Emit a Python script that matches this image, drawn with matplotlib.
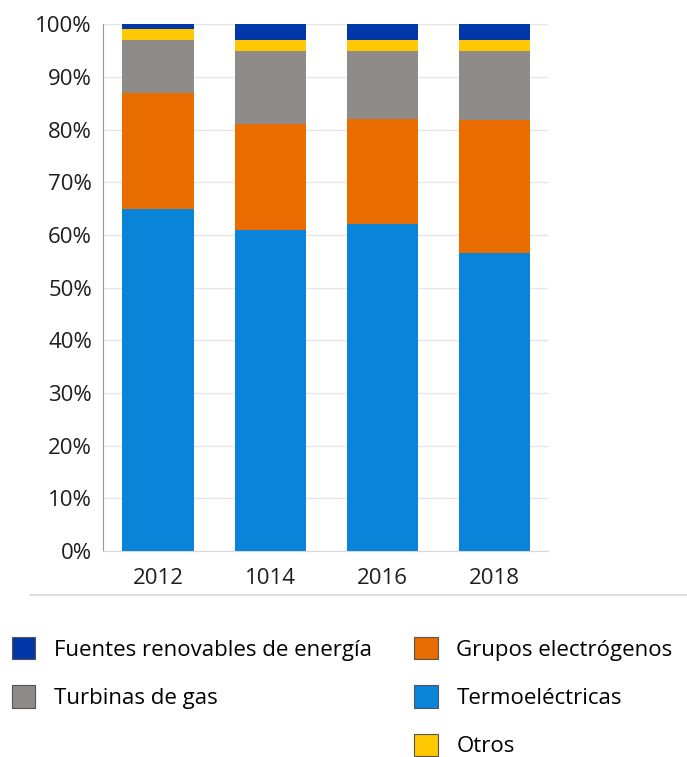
import numpy as np
import matplotlib.pyplot as plt
from matplotlib.lines import Line2D

# Datos
anios = ['2012', '1014', '2016', '2018']
termo = np.array([65.0, 61.0, 62.0, 56.6])
grupos = np.array([22.0, 20.0, 20.0, 25.2])
turbinas = np.array([10.0, 14.0, 13.0, 13.2])
otros = np.array([2.0, 2.0, 2.0, 2.0])
renovables = np.array([1.0, 3.0, 3.0, 3.0])

c_termo = '#0A84D8'
c_grupos = '#E86C00'
c_turb = '#8E8B88'
c_otros = '#FFC800'
c_renov = '#0038AA'

plt.rcParams['font.family'] = ['Open Sans', 'DejaVu Sans']

fig = plt.figure(figsize=(6.87, 7.57), dpi=100)
ax = fig.add_axes([0.150, 0.272, 0.648, 0.696])

x = np.arange(len(anios))
w = 0.635
base = np.zeros(len(anios))
barras = {}
for nombre, vals, col in [('Termoeléctricas', termo, c_termo),
                          ('Grupos electrógenos', grupos, c_grupos),
                          ('Turbinas de gas', turbinas, c_turb),
                          ('Otros', otros, c_otros),
                          ('Fuentes renovables de energía', renovables, c_renov)]:
    barras[nombre] = ax.bar(x, vals, w, bottom=base, color=col, zorder=3)
    base = base + vals

ax.set_xlim(-0.49, 3.48)
ax.set_ylim(0, 100)
ax.set_yticks(np.arange(0, 101, 10))
ax.set_yticklabels([f'{v}%' for v in range(0, 101, 10)])
ax.set_xticks(x)
ax.set_xticklabels(anios)
ax.tick_params(axis='both', length=0, labelsize=16, colors='#1E1E1E')
ax.tick_params(axis='y', pad=8)
ax.tick_params(axis='x', pad=12)
ax.grid(axis='y', color='#E6E6E6', linewidth=1, zorder=0)
for s in ['top', 'right']:
    ax.spines[s].set_visible(False)
ax.spines['left'].set_color('#9A9A9A')
ax.spines['bottom'].set_color('#D9D9D9')

# Línea separadora
fig.add_artist(Line2D([0.044, 1.0], [1 - 595 / 757, 1 - 595 / 757],
                      color='#D9D9D9', linewidth=1.2))

# Leyendas
estilo = dict(frameon=False, fontsize=16, handlelength=1.05, handleheight=1.15,
              handletextpad=0.85, labelspacing=1.12, borderaxespad=0, borderpad=0)

h1 = [barras['Fuentes renovables de energía'], barras['Turbinas de gas']]
l1 = ['Fuentes renovables de energía', 'Turbinas de gas']
leg1 = fig.legend(h1, l1, loc='upper left', bbox_to_anchor=(0.017, 1 - 637 / 757), **estilo)
h2 = [barras['Grupos electrógenos'], barras['Termoeléctricas'], barras['Otros']]
l2 = ['Grupos electrógenos', 'Termoeléctricas', 'Otros']
leg2 = fig.legend(h2, l2, loc='upper left', bbox_to_anchor=(0.603, 1 - 637 / 757), **estilo)
for leg in (leg1, leg2):
    for p in leg.get_patches():
        p.set_edgecolor('#555555')
        p.set_linewidth(0.8)

fig.savefig('out.png', dpi=100)
